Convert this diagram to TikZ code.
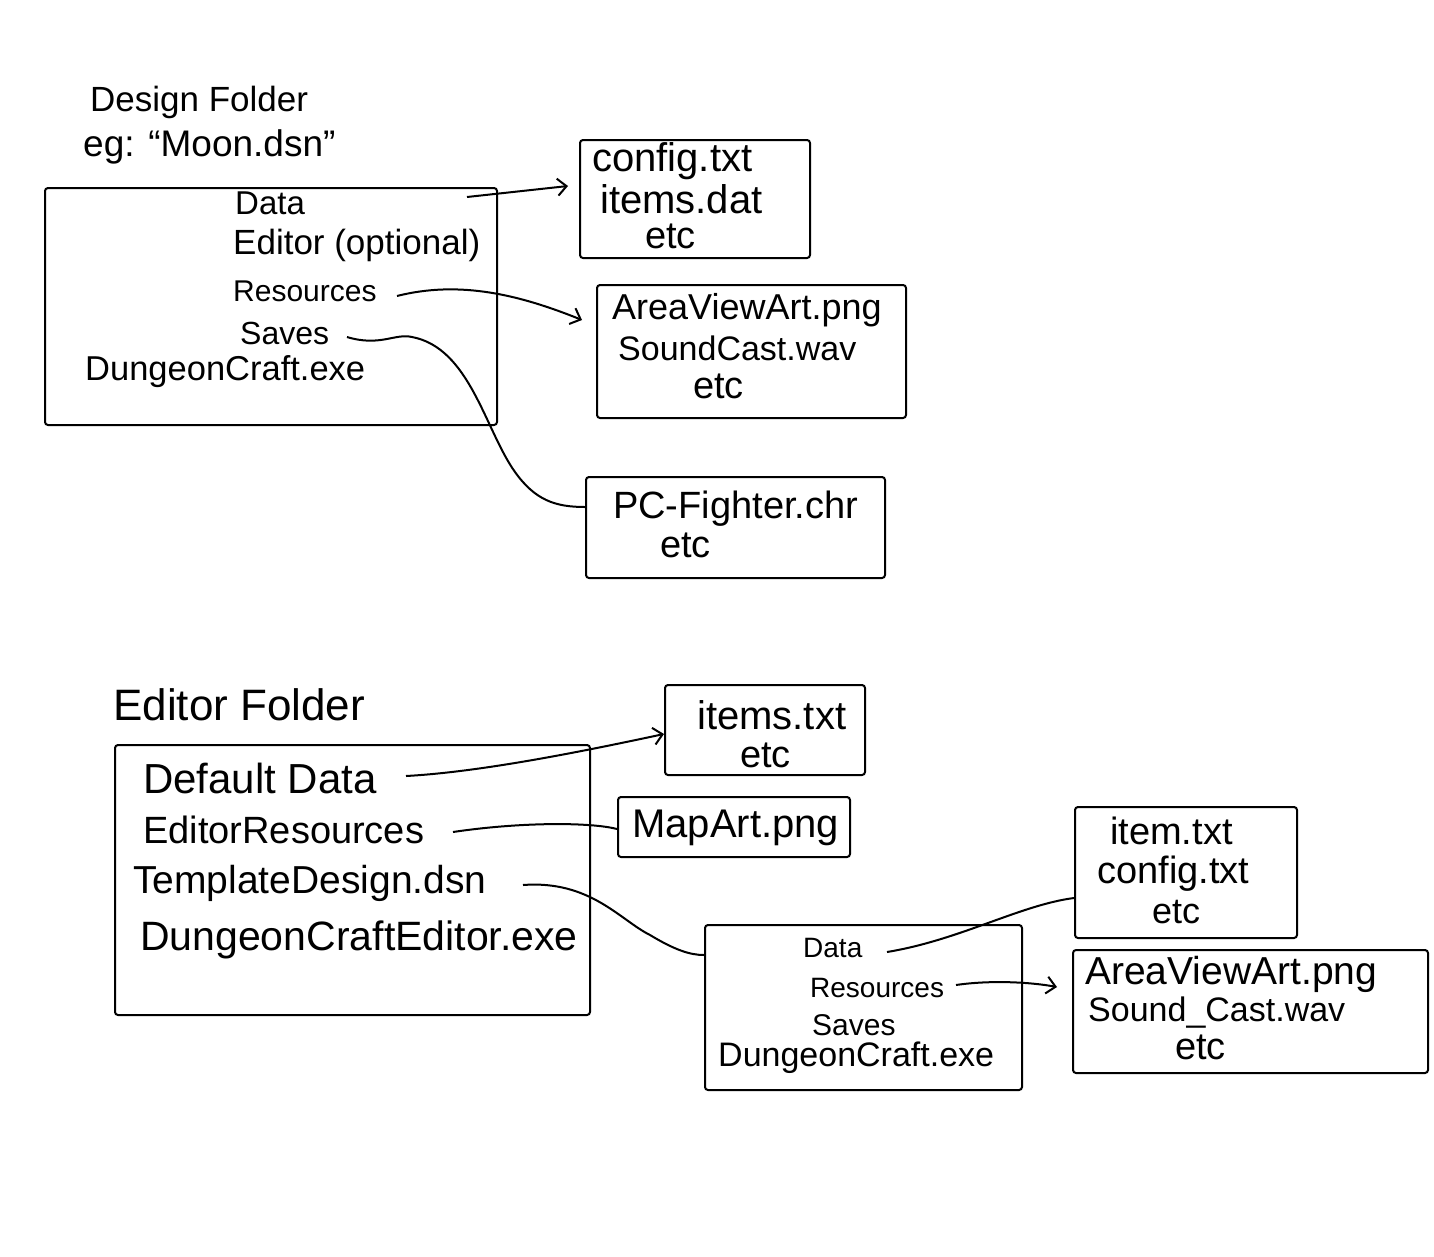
\documentclass[tikz,border=0pt]{standalone}
\usepackage{fontspec}
\setmainfont{Liberation Sans}
\usetikzlibrary{arrows.meta}
\newcommand\fsz[1]{\fontsize{#1}{#1}\selectfont}
\tikzset{
  txt/.style={anchor=west, inner sep=0pt, font=\fsz{#1}},
  box/.style={draw, line width=2pt, rounded corners=3pt, inner sep=0pt},
  conn/.style={line width=2pt},
  arr/.style={conn, -{Straight Barb[length=9pt,width=17pt]}}
}
\begin{document}
\begin{tikzpicture}[x=1pt,y=-1pt]
\fill[white] (0,0) rectangle (1434,1256);
\useasboundingbox (0,0) rectangle (1434,1256);

% ---------- Design folder ----------
\node[txt=35] (tDF) at (90,102) {Design Folder};
\node[txt=37] (tEg) at (83,147) {eg: “Moon.dsn”};
\node[box, minimum width=452pt, minimum height=237pt] (B1) at (271,306.5) {};
\node[txt=33] (tData) at (235,203) {Data};
\node[txt=35] (tEd) at (233,245) {Editor (optional)};
\node[txt=30] (tRes) at (233,291) {Resources};
\node[txt=32] (tSav) at (240,333) {Saves};
\node[txt=34.5] (tDC) at (85,372) {DungeonCraft.exe};

\node[box, minimum width=230pt, minimum height=118pt] (Bcfg) at (695,199) {};
\node[txt=40] (c1a) at (592,161) {config.txt};
\node[txt=40] (c1b) at (600,199) {items.dat};
\node[txt=38] (c1c) at (645,236) {etc};

\node[box, minimum width=309pt, minimum height=133pt] (Barea) at (751.5,351.5) {};
\node[txt=36] (a1a) at (612,310) {AreaViewArt.png};
\node[txt=34] (a1b) at (618,348) {SoundCast.wav};
\node[txt=38] (a1c) at (693,386) {etc};

\node[box, minimum width=299pt, minimum height=101pt] (Bpc) at (735.5,527.5) {};
\node[txt=38] (p1a) at (613,509) {PC-Fighter.chr};
\node[txt=38] (p1b) at (660,545) {etc};

\draw[arr] ([xshift=232pt,yshift=6pt]tData.west) -- ([xshift=-11pt,yshift=13pt]Bcfg.west);
\draw[arr] ([xshift=164pt,yshift=-5pt]tRes.west) .. controls (460,280) and (520,295) .. ([xshift=-14pt,yshift=31.5pt]Barea.west);
\draw[conn] ([xshift=107pt,yshift=-4pt]tSav.west) .. controls (380,347) and (395,333) .. (412,337)
   .. controls (470,348) and (485,430) .. (515,472)
   .. controls (535,500) and (555,507) .. ([yshift=20.5pt]Bpc.west);

% ---------- Editor folder ----------
\node[txt=44] (tEF) at (113,705) {Editor Folder};
\node[box, minimum width=475pt, minimum height=270pt] (B2) at (352.5,880) {};
\node[txt=42] (tDD) at (143,778) {Default Data};
\node[txt=38] (tER) at (143,830) {EditorResources};
\node[txt=39] (tTD) at (133,883) {TemplateDesign.dsn};
\node[txt=41] (tDCE) at (140,940) {DungeonCraftEditor.exe};

\node[box, minimum width=200pt, minimum height=90pt] (Bitems) at (765,730) {};
\node[txt=40] (i1a) at (697,715) {items.txt};
\node[txt=38] (i1b) at (740,755) {etc};

\node[box, minimum width=232pt, minimum height=60pt] (Bmap) at (734,827) {};
\node[txt=40] (m1a) at (632,828) {MapArt.png};

\node[box, minimum width=317pt, minimum height=165pt] (Binner) at (863.5,1007.5) {};
\node[txt=28] (tD2) at (803,948) {Data};
\node[txt=28] (tR2) at (810,988) {Resources};
\node[txt=30] (tS2) at (812,1025) {Saves};
\node[txt=34] (tDC2) at (718,1058) {DungeonCraft.exe};

\node[box, minimum width=222pt, minimum height=131pt] (Bitem2) at (1186,872.5) {};
\node[txt=38] (j1a) at (1110,831) {item.txt};
\node[txt=38] (j1b) at (1097,874) {config.txt};
\node[txt=36] (j1c) at (1152,912) {etc};

\node[box, minimum width=355pt, minimum height=123pt] (Barea2) at (1250.5,1011.5) {};
\node[txt=39] (k1a) at (1085,974) {AreaViewArt.png};
\node[txt=34] (k1b) at (1088,1013) {Sound\_Cast.wav};
\node[txt=38] (k1c) at (1175,1047) {etc};

\draw[arr] ([xshift=263pt,yshift=2pt]tDD.west) .. controls (480,772) and (580,752) .. ([yshift=-4pt]Bitems.west);
\draw[conn] ([xshift=310pt,yshift=-2pt]tER.west) .. controls (520,822) and (590,822) .. ([yshift=-2pt]Bmap.west);
\draw[conn] ([xshift=390pt,yshift=-2pt]tTD.west) .. controls (590,880) and (620,920) .. (650,935)
   .. controls (675,950) and (690,955) .. ([yshift=52.5pt]Binner.west);
\draw[conn] ([xshift=84pt,yshift=-4pt]tD2.west) .. controls (960,940) and (1020,905) .. ([yshift=-25.5pt]Bitem2.west);
\draw[arr] ([xshift=146pt,yshift=3pt]tR2.west) .. controls (990,980) and (1030,982) .. ([xshift=-15pt,yshift=24.5pt]Barea2.west);
\end{tikzpicture}
\end{document}
